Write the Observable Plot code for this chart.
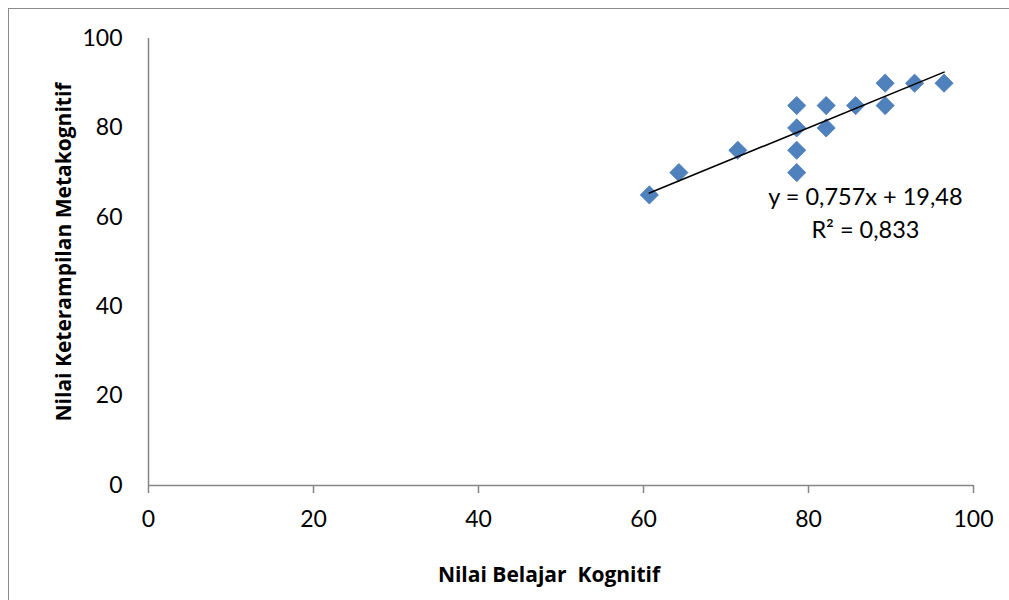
<!DOCTYPE html>
<html>
<head>
<meta charset="utf-8">
<script src="https://cdn.jsdelivr.net/npm/d3@7"></script>
<script src="https://cdn.jsdelivr.net/npm/@observablehq/plot@0.6"></script>
<style>
  html, body { margin: 0; padding: 0; background: #fff; }
  #wrap { position: relative; width: 1009px; height: 600px; overflow: hidden; }
  #border { position: absolute; left: 8px; top: 8px; width: 1020px; height: 620px; border: 1.5px solid #8c8c8c; box-sizing: border-box; }
  #chart { position: absolute; left: 0; top: 0; }
</style>
</head>
<body>
<div id="wrap"><div id="border"></div><div id="chart"></div></div>
<script>
// Data
const belajarKognitif = [60.71, 64.29, 71.43, 78.57, 78.57, 78.57, 78.57, 82.14, 82.14, 85.71, 89.29, 89.29, 92.86, 96.43];
const keterampilanMeta = [65, 70, 75, 70, 75, 80, 85, 80, 85, 85, 85, 90, 90, 90];
const xTicks = [0, 20, 40, 60, 80, 100];
const yTicks = [0, 20, 40, 60, 80, 100];
const xTitle = "Nilai Belajar\u00a0\u00a0Kognitif";
const yTitle = "Nilai Keterampilan Metakognitif";
const trendSlope = 0.757;
const trendIntercept = 19.48;
const rSquared = 0.833;
// annotation anchor (data units)
const eqLabelX = [86.9];
const eqLabelY = [64.4, 57.0];

const points = belajarKognitif.map((x, i) => ({x, y: keterampilanMeta[i]}));
const xMin = d3.min(belajarKognitif), xMax = d3.max(belajarKognitif);
const trend = [xMin, xMax].map(x => ({x, y: trendSlope * x + trendIntercept}));
const fmt = v => String(v).replace(".", ",");
const eqLines = [
  {x: eqLabelX[0], y: eqLabelY[0], t: `y = ${fmt(trendSlope)}x + ${fmt(trendIntercept)}`},
  {x: eqLabelX[0], y: eqLabelY[1], t: `R² = ${fmt(rSquared)}`}
];

const axisColor = "#868686";
const titleFont = "'Open Sans', Lato, sans-serif";
const chart = Plot.plot({
  width: 1009,
  height: 600,
  marginLeft: 148,
  marginRight: 36,
  marginTop: 38,
  marginBottom: 115,
  style: {fontFamily: "Lato, 'Open Sans', sans-serif", background: "transparent", color: "#000"},
  x: {domain: [0, 100]},
  y: {domain: [0, 100]},
  marks: [
    Plot.axisX({ticks: xTicks, tickSize: 8, tickPadding: 17, stroke: axisColor, strokeWidth: 1.5, fontSize: 23, label: null, fill: "#000"}),
    Plot.axisY({ticks: yTicks, tickSize: 0, tickPadding: 26, fontSize: 23, label: null, fill: "#000"}),
    Plot.ruleY([0], {stroke: axisColor, strokeWidth: 1.5}),
    Plot.ruleX([0], {stroke: axisColor, strokeWidth: 1.5}),
    Plot.dot(points, {x: "x", y: "y", symbol: "diamond2", r: 8.2, fill: "#4f81bd", stroke: "#4a7ab5", strokeWidth: 0.8}),
    Plot.line(trend, {x: "x", y: "y", stroke: "#000", strokeWidth: 1.6}),
    Plot.text(eqLines, {x: "x", y: "y", text: "t", fontSize: 23.5, fill: "#000", textAnchor: "middle"}),
    Plot.text([xTitle], {frameAnchor: "bottom", textAnchor: "middle", lineAnchor: "middle", dx: -12, dy: 90, fontSize: 21, fontWeight: "bold", fontFamily: titleFont, fill: "#000"}),
    Plot.text([yTitle], {frameAnchor: "left", textAnchor: "middle", lineAnchor: "middle", dx: -84, dy: -10, rotate: -90, fontSize: 21, fontWeight: "bold", fontFamily: titleFont, fill: "#000"})
  ]
});
document.getElementById("chart").appendChild(chart);
</script>
</body>
</html>
